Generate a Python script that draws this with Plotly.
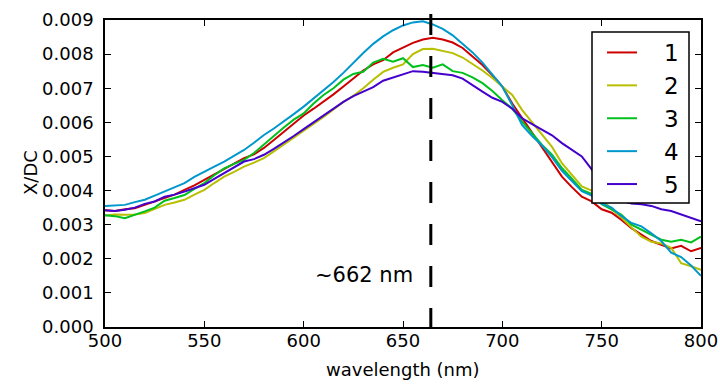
import plotly.graph_objects as go

wavelength = list(range(500, 801, 5))

s1 = [0.00342, 0.00340, 0.00345, 0.00348, 0.00358, 0.00368, 0.00378, 0.00388, 0.00402, 0.00415,
      0.00431, 0.00447, 0.00461, 0.00478, 0.00495, 0.00506, 0.00525, 0.00548, 0.00572, 0.00596,
      0.00620, 0.00640, 0.00660, 0.00682, 0.00705, 0.00728, 0.00752, 0.00770, 0.00782, 0.00805,
      0.00820, 0.00833, 0.00843, 0.00848, 0.00843, 0.00834, 0.00818, 0.00792, 0.00768, 0.00738,
      0.00705, 0.00655, 0.00612, 0.00570, 0.00525, 0.00482, 0.00441, 0.00410, 0.00382, 0.00368,
      0.00345, 0.00335, 0.00314, 0.00290, 0.00270, 0.00252, 0.00241, 0.00230, 0.00238, 0.00222,
      0.00232]
s2 = [0.00327, 0.00330, 0.00329, 0.00330, 0.00334, 0.00345, 0.00358, 0.00365, 0.00373, 0.00388,
      0.00402, 0.00422, 0.00441, 0.00455, 0.00470, 0.00482, 0.00495, 0.00515, 0.00535, 0.00556,
      0.00576, 0.00596, 0.00616, 0.00638, 0.00660, 0.00678, 0.00700, 0.00725, 0.00748, 0.00760,
      0.00770, 0.00800, 0.00815, 0.00816, 0.00810, 0.00803, 0.00790, 0.00772, 0.00752, 0.00730,
      0.00705, 0.00680, 0.00636, 0.00600, 0.00563, 0.00528, 0.00480, 0.00445, 0.00412, 0.00400,
      0.00375, 0.00345, 0.00320, 0.00292, 0.00265, 0.00250, 0.00245, 0.00232, 0.00187, 0.00178,
      0.00168]
s3 = [0.00328, 0.00325, 0.00319, 0.00328, 0.00339, 0.00350, 0.00370, 0.00378, 0.00387, 0.00405,
      0.00422, 0.00445, 0.00465, 0.00478, 0.00490, 0.00510, 0.00534, 0.00560, 0.00585, 0.00608,
      0.00626, 0.00655, 0.00680, 0.00700, 0.00725, 0.00742, 0.00748, 0.00775, 0.00786, 0.00778,
      0.00788, 0.00762, 0.00768, 0.00760, 0.00770, 0.00750, 0.00745, 0.00732, 0.00715, 0.00692,
      0.00665, 0.00640, 0.00602, 0.00568, 0.00534, 0.00505, 0.00466, 0.00435, 0.00402, 0.00390,
      0.00360, 0.00345, 0.00329, 0.00300, 0.00285, 0.00270, 0.00256, 0.00250, 0.00256, 0.00248,
      0.00265]
s4 = [0.00355, 0.00356, 0.00358, 0.00366, 0.00373, 0.00385, 0.00397, 0.00408, 0.00422, 0.00440,
      0.00456, 0.00470, 0.00485, 0.00502, 0.00519, 0.00540, 0.00563, 0.00582, 0.00602, 0.00624,
      0.00646, 0.00670, 0.00694, 0.00718, 0.00745, 0.00775, 0.00803, 0.00830, 0.00852, 0.00870,
      0.00884, 0.00893, 0.00896, 0.00887, 0.00874, 0.00855, 0.00830, 0.00805, 0.00775, 0.00740,
      0.00705, 0.00650, 0.00592, 0.00560, 0.00532, 0.00498, 0.00458, 0.00428, 0.00398, 0.00385,
      0.00362, 0.00350, 0.00325, 0.00305, 0.00295, 0.00275, 0.00252, 0.00218, 0.00205, 0.00180,
      0.00150]
s5 = [0.00342, 0.00340, 0.00344, 0.00350, 0.00361, 0.00368, 0.00382, 0.00388, 0.00397, 0.00408,
      0.00417, 0.00434, 0.00451, 0.00466, 0.00485, 0.00492, 0.00505, 0.00522, 0.00540, 0.00560,
      0.00580, 0.00600, 0.00620, 0.00640, 0.00660, 0.00677, 0.00690, 0.00703, 0.00722, 0.00732,
      0.00740, 0.00750, 0.00748, 0.00744, 0.00742, 0.00738, 0.00728, 0.00708, 0.00690, 0.00672,
      0.00660, 0.00640, 0.00612, 0.00595, 0.00578, 0.00562, 0.00539, 0.00520, 0.00500, 0.00462,
      0.00420, 0.00390, 0.00370, 0.00362, 0.00360, 0.00355, 0.00345, 0.00340, 0.00330, 0.00320,
      0.00310]

series = [s1, s2, s3, s4, s5]
names = ["1", "2", "3", "4", "5"]
colors = ["#cc0000", "#b8bf00", "#00c01c", "#0098cc", "#4400cc"]

peak_nm = 664
peak_label = "~662 nm"
x_ticks = [500, 550, 600, 650, 700, 750, 800]
y_ticks = [i / 1000 for i in range(10)]

FONT = "DejaVu Sans"
NB = "\u00a0"

# plot-area geometry (px)
W, H = 720, 386
L, R, T, B = 105, 19, 20, 59
PW, PH = W - L - R, H - T - B

def px_x(p):
    return (p - L) / PW

def px_y(p):
    return (H - B - p) / PH

fig = go.Figure()
for ys, nm, c in zip(series, names, colors):
    fig.add_trace(go.Scatter(x=wavelength, y=ys, mode="lines", name=NB * 3 + nm,
                             line=dict(color=c, width=2)))

fig.add_shape(type="line", xref="x", yref="paper", x0=peak_nm, x1=peak_nm,
              y0=px_y(329), y1=px_y(13), line=dict(color="black", width=3, dash="21px,21px"))

# legend frame
fig.add_shape(type="rect", xref="paper", yref="paper", x0=px_x(592), x1=px_x(689),
              y0=px_y(203), y1=px_y(32), fillcolor="white",
              line=dict(color="black", width=1.5), layer="above")

fig.add_annotation(x=656, y=0.00153, xref="x", yref="y", text=peak_label,
                   showarrow=False, xanchor="right", yanchor="middle",
                   font=dict(family=FONT, size=21, color="black"))

fig.add_annotation(x=px_x(403), y=px_y(369), xref="paper", yref="paper", text="wavelength (nm)",
                   showarrow=False, xanchor="center", yanchor="middle",
                   font=dict(family=FONT, size=18, color="black"))
fig.add_annotation(x=px_x(30), y=px_y(172), xref="paper", yref="paper", text="X/DC",
                   showarrow=False, textangle=-90, xanchor="center", yanchor="middle",
                   font=dict(family=FONT, size=18, color="black"))

axis_common = dict(showline=True, linecolor="black", linewidth=1.5, mirror="allticks",
                   ticks="inside", ticklen=6, tickwidth=1, tickcolor="black",
                   showgrid=False, zeroline=False, automargin=False,
                   tickfont=dict(family=FONT, size=18, color="black"))

fig.update_xaxes(range=[500, 800], tickvals=x_ticks, ticklabelstandoff=-3, **axis_common)
fig.update_yaxes(range=[0, 0.009], tickvals=y_ticks, tickformat=".3f",
                 ticklabelstandoff=6, **axis_common)

fig.update_layout(
    template="none",
    width=W, height=H,
    margin=dict(l=L, r=R, t=T, b=B),
    paper_bgcolor="white", plot_bgcolor="white",
    font=dict(family=FONT, color="black"),
    showlegend=True,
    legend=dict(x=px_x(602), y=px_y(31), xanchor="left", yanchor="top",
                bgcolor="rgba(0,0,0,0)", borderwidth=0, tracegroupgap=0,
                font=dict(family=FONT, size=23, color="black")),
)

fig.write_html("out.html", config={"displayModeBar": False},
               post_script="document.body.style.margin='0px';")
